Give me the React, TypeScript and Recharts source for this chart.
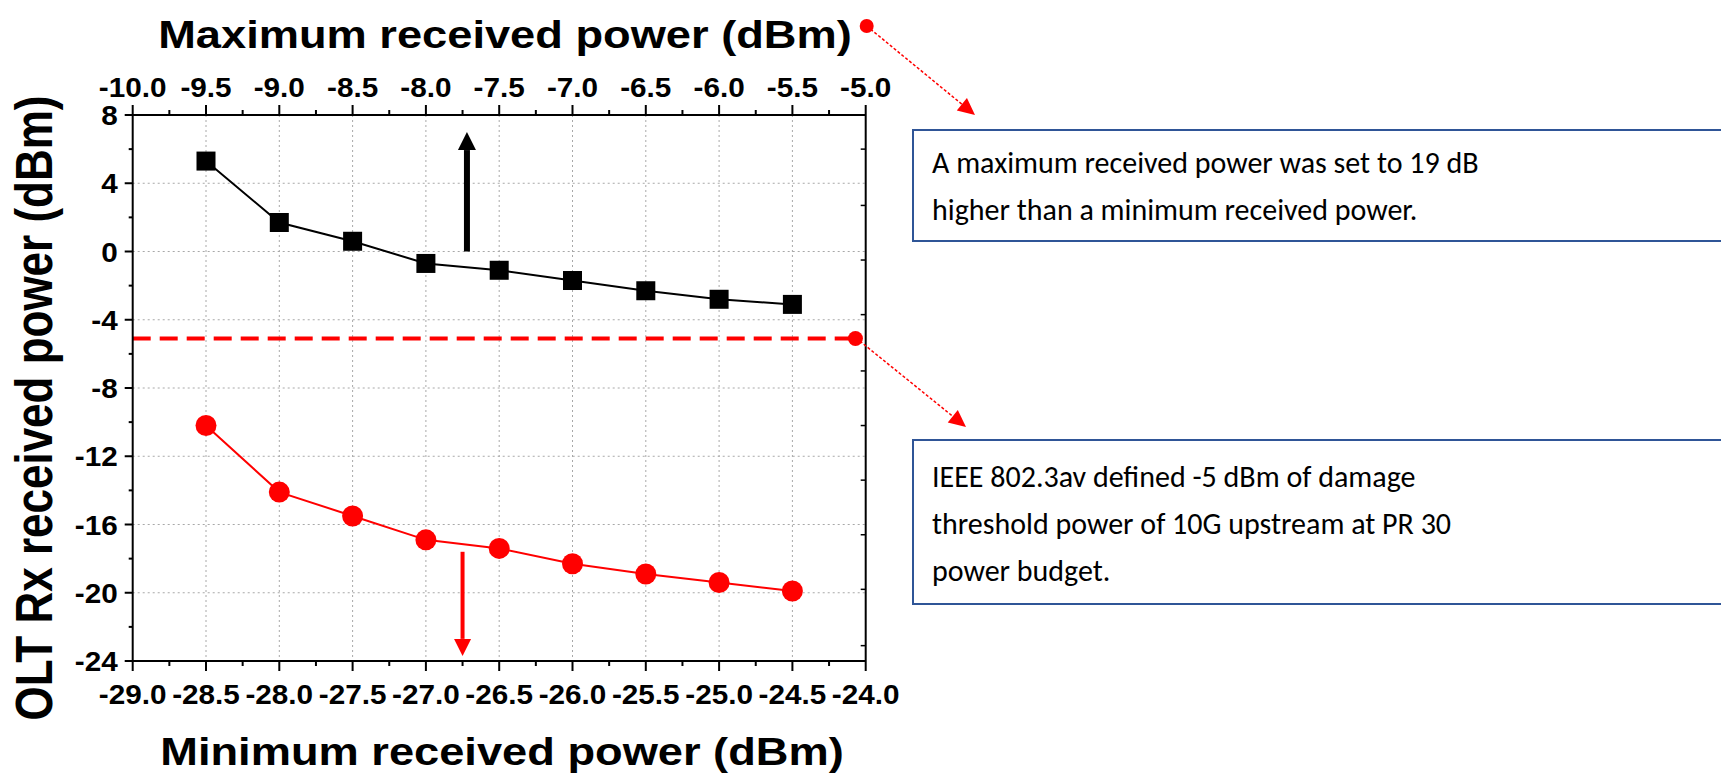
import React from "react"
import {
  CartesianGrid,
  Line,
  LineChart,
  ReferenceDot,
  ReferenceLine,
  XAxis,
  YAxis,
} from "recharts"

// measured points (dBm)
const minRx = [-28.5, -28.0, -27.5, -27.0, -26.5, -26.0, -25.5, -25.0, -24.5]
const maxRx = [-9.5, -9.0, -8.5, -8.0, -7.5, -7.0, -6.5, -6.0, -5.5]
const upperRx = [5.3, 1.7, 0.6, -0.7, -1.1, -1.7, -2.3, -2.8, -3.1]
const lowerRx = [-10.2, -14.1, -15.5, -16.9, -17.4, -18.3, -18.9, -19.4, -19.9]

// axes
const bottomTicks = [
  -29, -28.75, -28.5, -28.25, -28, -27.75, -27.5, -27.25, -27, -26.75, -26.5,
  -26.25, -26, -25.75, -25.5, -25.25, -25, -24.75, -24.5, -24.25, -24,
]
const topTicks = [
  -10, -9.75, -9.5, -9.25, -9, -8.75, -8.5, -8.25, -8, -7.75, -7.5, -7.25, -7,
  -6.75, -6.5, -6.25, -6, -5.75, -5.5, -5.25, -5,
]
const leftTicks = [8, 6, 4, 2, 0, -2, -4, -6, -8, -10, -12, -14, -16, -18, -20, -22, -24]
const rightTicks = [6, 2.7, -0.5, -3.7, -7, -10.2, -13.4, -16.6, -19.8, -23.1]
const xGrid = [-28.5, -28, -27.5, -27, -26.5, -26, -25.5, -25, -24.5]
const yGrid = [4, 0, -4, -8, -12, -16, -20]

// annotations
const damageThreshold = -5.1
const thresholdEnd = -24.07
const upArrow = { x: -26.72, from: 0, to: 7 }
const downArrow = { x: -26.75, from: -17.6, to: -23.7 }

const data = minRx.map((m, i) => ({
  min: m,
  max: maxRx[i],
  upper: upperRx[i],
  lower: lowerRx[i],
}))

const AXIS_FONT = "'Liberation Sans', Arial, sans-serif"
const BOX_FONT = "Carlito, Lato, 'Open Sans', sans-serif"

const isHalf = (v: number) => Math.abs(v * 2 - Math.round(v * 2)) < 1e-6

function TickLabel({ x, y, anchor, text }: { x: number; y: number; anchor: string; text: string }) {
  return (
    <text
      transform={`translate(${x},${y}) scale(1.1,1)`}
      textAnchor={anchor}
      fontSize={27}
      fontWeight="bold"
      fontFamily={AXIS_FONT}
      fill="#000"
    >
      {text}
    </text>
  )
}

function BottomTick(p: any) {
  const v = p.payload.value
  const major = isHalf(v)
  return (
    <g>
      <line x1={p.x} x2={p.x} y1={p.y} y2={p.y + (major ? 10 : 5)} stroke="#000" strokeWidth={2} />
      {major && <TickLabel x={p.x} y={p.y + 43} anchor="middle" text={v.toFixed(1)} />}
    </g>
  )
}

function TopTick(p: any) {
  const v = p.payload.value
  const major = isHalf(v)
  return (
    <g>
      <line x1={p.x} x2={p.x} y1={p.y} y2={p.y - (major ? 10 : 5)} stroke="#000" strokeWidth={2} />
      {major && <TickLabel x={p.x} y={p.y - 18} anchor="middle" text={v.toFixed(1)} />}
    </g>
  )
}

function LeftTick(p: any) {
  const v = p.payload.value
  const major = v % 4 === 0
  return (
    <g>
      <line x1={p.x} x2={p.x - (major ? 8 : 4)} y1={p.y} y2={p.y} stroke="#000" strokeWidth={2} />
      {major && <TickLabel x={p.x - 15} y={p.y + 10} anchor="end" text={String(v)} />}
    </g>
  )
}

function RightTick(p: any) {
  return <line x1={p.x} x2={p.x - 5} y1={p.y} y2={p.y} stroke="#000" strokeWidth={1.5} />
}

function Square(p: any) {
  if (p.cx == null || p.cy == null) return <g key={`sq-${p.index}`} />
  return <rect key={`sq-${p.index}`} x={p.cx - 9.5} y={p.cy - 9.5} width={19} height={19} fill="#000" />
}

function Circle(p: any) {
  if (p.cx == null || p.cy == null) return <g key={`ci-${p.index}`} />
  return <circle key={`ci-${p.index}`} cx={p.cx} cy={p.cy} r={10.5} fill="#ff0000" />
}

function arrowParts(x1: number, y1: number, x2: number, y2: number, head: number, half: number) {
  const dx = x2 - x1
  const dy = y2 - y1
  const len = Math.hypot(dx, dy) || 1
  const ux = dx / len
  const uy = dy / len
  const bx = x2 - ux * head
  const by = y2 - uy * head
  const pts = `${x2},${y2} ${bx - uy * half},${by + ux * half} ${bx + uy * half},${by - ux * half}`
  return { bx, by, pts }
}

function makeArrow(color: string, width: number, head: number, half: number) {
  return (p: any) => {
    const { bx, by, pts } = arrowParts(p.x1, p.y1, p.x2, p.y2, head, half)
    return (
      <g>
        <line x1={p.x1} y1={p.y1} x2={bx} y2={by} stroke={color} strokeWidth={width} />
        <polygon points={pts} fill={color} />
      </g>
    )
  }
}

function Leader({ x1, y1, x2, y2 }: { x1: number; y1: number; x2: number; y2: number }) {
  const { bx, by, pts } = arrowParts(x1, y1, x2, y2, 17, 8)
  return (
    <g>
      <line x1={x1} y1={y1} x2={bx} y2={by} stroke="#ff0000" strokeWidth={1.5} strokeDasharray="3 2" />
      <polygon points={pts} fill="#ff0000" />
    </g>
  )
}

const boxStyle: React.CSSProperties = {
  position: "absolute",
  left: 912,
  width: 840,
  border: "2px solid #2F5597",
  background: "#fff",
  fontFamily: BOX_FONT,
  fontSize: 30,
  lineHeight: "47px",
  color: "#000",
  paddingLeft: 18,
  boxSizing: "border-box",
}

export default function App() {
  return (
    <div style={{ position: "relative", width: 1721, height: 777, overflow: "hidden", background: "#fff" }}>
      <style>{"body{margin:0}"}</style>
      <div style={{ position: "absolute", left: 0, top: 0 }}>
        <LineChart width={900} height={777} data={data} margin={{ top: 0, right: 0, bottom: 0, left: 0 }}>
          <CartesianGrid
            stroke="#a8a8a8"
            strokeDasharray="2 3"
            horizontalValues={yGrid}
            verticalValues={xGrid}
          />
          <XAxis
            dataKey="min"
            type="number"
            domain={[-29, -24]}
            ticks={bottomTicks}
            interval={0}
            height={116}
            tickSize={0}
            tickMargin={0}
            tick={<BottomTick />}
            axisLine={{ stroke: "#000", strokeWidth: 2 }}
            allowDataOverflow
          />
          <XAxis
            xAxisId="top"
            orientation="top"
            dataKey="max"
            type="number"
            domain={[-10, -5]}
            ticks={topTicks}
            interval={0}
            height={115}
            tickSize={0}
            tickMargin={0}
            tick={<TopTick />}
            axisLine={{ stroke: "#000", strokeWidth: 2 }}
            allowDataOverflow
          />
          <YAxis
            type="number"
            domain={[-24, 8]}
            ticks={leftTicks}
            interval={0}
            width={132.7}
            tickSize={0}
            tickMargin={0}
            tick={<LeftTick />}
            axisLine={{ stroke: "#000", strokeWidth: 2 }}
            allowDataOverflow
          />
          <YAxis
            yAxisId="right"
            orientation="right"
            type="number"
            domain={[-24, 8]}
            ticks={rightTicks}
            interval={0}
            width={34.3}
            tickSize={0}
            tickMargin={0}
            tick={<RightTick />}
            axisLine={{ stroke: "#000", strokeWidth: 2 }}
            allowDataOverflow
          />
          <ReferenceLine
            segment={[
              { x: -29, y: damageThreshold },
              { x: thresholdEnd, y: damageThreshold },
            ]}
            stroke="#ff0000"
            strokeWidth={4}
            strokeDasharray="18 9"
          />
          <Line
            dataKey="upper"
            xAxisId="top"
            stroke="none"
            dot={false}
            activeDot={false}
            isAnimationActive={false}
          />
          <Line
            dataKey="lower"
            yAxisId="right"
            stroke="none"
            dot={false}
            activeDot={false}
            isAnimationActive={false}
          />
          <Line
            dataKey="upper"
            stroke="#000"
            strokeWidth={2}
            dot={Square}
            activeDot={false}
            isAnimationActive={false}
          />
          <Line
            dataKey="lower"
            stroke="#ff0000"
            strokeWidth={2}
            dot={Circle}
            activeDot={false}
            isAnimationActive={false}
          />
          <ReferenceLine
            segment={[
              { x: upArrow.x, y: upArrow.from },
              { x: upArrow.x, y: upArrow.to },
            ]}
            shape={makeArrow("#000", 6, 18, 9)}
          />
          <ReferenceLine
            segment={[
              { x: downArrow.x, y: downArrow.from },
              { x: downArrow.x, y: downArrow.to },
            ]}
            shape={makeArrow("#ff0000", 4, 17, 8.5)}
          />
          <ReferenceDot x={thresholdEnd} y={damageThreshold} r={7.5} fill="#ff0000" stroke="none" />
        </LineChart>
      </div>

      <svg
        width={1721}
        height={777}
        style={{ position: "absolute", left: 0, top: 0, pointerEvents: "none" }}
      >
        <text
          transform="translate(505,48) scale(1.16,1)"
          textAnchor="middle"
          fontSize={39}
          fontWeight="bold"
          fontFamily={AXIS_FONT}
        >
          Maximum received power (dBm)
        </text>
        <text
          transform="translate(502,765) scale(1.16,1)"
          textAnchor="middle"
          fontSize={39}
          fontWeight="bold"
          fontFamily={AXIS_FONT}
        >
          Minimum received power (dBm)
        </text>
        <text
          transform="translate(52,408) rotate(-90) scale(1,1.18)"
          textAnchor="middle"
          fontSize={44}
          fontWeight="bold"
          fontFamily={AXIS_FONT}
        >
          OLT Rx received power (dBm)
        </text>
        <circle cx={866.7} cy={26} r={7} fill="#ff0000" />
        <Leader x1={866.7} y1={26} x2={975} y2={115} />
        <Leader x1={856} y1={338} x2={966} y2={427} />
      </svg>

      <div style={{ ...boxStyle, top: 129, height: 113, paddingTop: 8 }}>
        A maximum received power was set to 19 dB
        <br />
        higher than a minimum received power.
      </div>
      <div style={{ ...boxStyle, top: 439, height: 166, paddingTop: 12 }}>
        IEEE 802.3av defined -5 dBm of damage
        <br />
        threshold power of 10G upstream at PR 30
        <br />
        power budget.
      </div>
    </div>
  )
}
